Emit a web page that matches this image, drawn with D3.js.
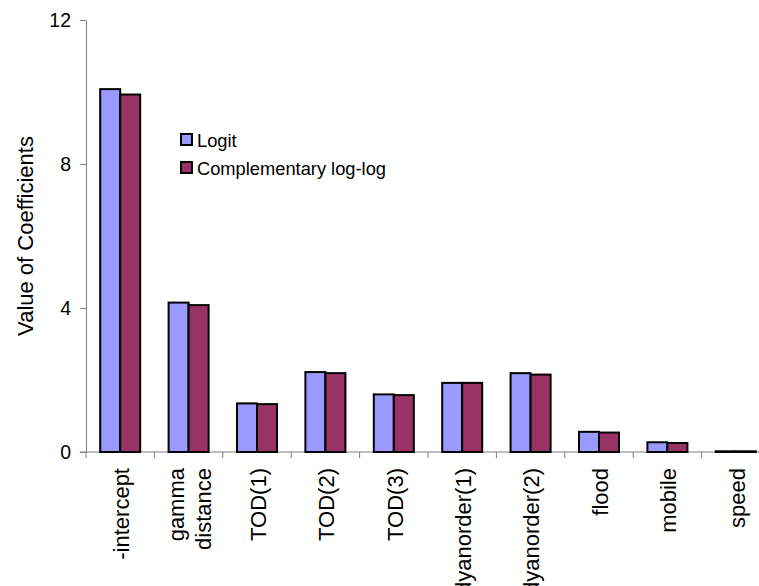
<!DOCTYPE html>
<html>
<head>
<meta charset="utf-8">
<script src="https://cdn.jsdelivr.net/npm/d3@7"></script>
<style>
  html, body { margin: 0; padding: 0; background: #fff; overflow: hidden; }
  svg { display: block; font-family: Arial, "Liberation Sans", sans-serif; }
</style>
</head>
<body>
<svg id="chart" width="759" height="586"></svg>
<script>
// Coefficient estimates for the two link functions
const categories = ["-intercept", "gamma distance", "TOD(1)", "TOD(2)", "TOD(3)",
                    "dyanorder(1)", "dyanorder(2)", "flood", "mobile", "speed"];
const seriesNames = ["Logit", "Complementary log-log"];
const logitValues = [10.08, 4.15, 1.35, 2.22, 1.60, 1.92, 2.19, 0.56, 0.27, 0.02];
const cloglogValues = [9.93, 4.08, 1.33, 2.19, 1.58, 1.92, 2.15, 0.54, 0.25, 0.02];
const yTicks = [0, 4, 8, 12];
const yTitle = "Value of Coefficients";

const colors = ["#9999ff", "#993366"];
const seriesValues = [logitValues, cloglogValues];

const svg = d3.select("#chart");
const plot = { left: 86, right: 770, top: 20, bottom: 452 };

const x = d3.scaleBand()
  .domain(categories)
  .range([plot.left, plot.right])
  .paddingInner(0.415)
  .paddingOuter(0.2075);

const xSeries = d3.scaleBand()
  .domain(seriesNames)
  .range([0, x.bandwidth()]);

const y = d3.scaleLinear()
  .domain([0, 12])
  .range([plot.bottom, plot.top]);

// y axis
const yAxis = svg.append("g")
  .attr("transform", `translate(${plot.left},0)`)
  .call(d3.axisLeft(y).tickValues(yTicks).tickSize(6).tickPadding(9).tickSizeOuter(0));
yAxis.select(".domain").attr("stroke", "#808080");
yAxis.selectAll(".tick line").attr("stroke", "#808080");
yAxis.selectAll("text")
  .attr("fill", "#000")
  .style("font-size", "19.5px");

// x axis: tick marks sit on category boundaries
const step = x.step();
const boundaries = d3.range(categories.length + 1).map(i => plot.left + i * step);
const xAxisG = svg.append("g");
xAxisG.append("line")
  .attr("x1", plot.left - 6).attr("x2", plot.right)
  .attr("y1", plot.bottom).attr("y2", plot.bottom)
  .attr("stroke", "#808080");
xAxisG.selectAll("line.tick")
  .data(boundaries)
  .join("line")
  .attr("class", "tick")
  .attr("x1", d => d).attr("x2", d => d)
  .attr("y1", plot.bottom).attr("y2", plot.bottom + 6)
  .attr("stroke", "#808080");

// bars
const groups = svg.append("g")
  .selectAll("g")
  .data(categories)
  .join("g")
  .attr("transform", d => `translate(${x(d)},0)`);

groups.selectAll("rect")
  .data((d, i) => seriesNames.map((s, k) => ({ series: s, value: seriesValues[k][i], k })))
  .join("rect")
  .attr("x", d => xSeries(d.series))
  .attr("width", xSeries.bandwidth())
  .attr("y", d => y(d.value))
  .attr("height", d => y(0) - y(d.value))
  .attr("fill", d => colors[d.k])
  .attr("stroke", "#000")
  .attr("stroke-width", 2);

// category labels, rotated, wrapped on spaces
const labelG = svg.append("g");
categories.forEach(c => {
  const lines = c.split(" ");
  const cx = x(c) + x.bandwidth() / 2;
  const lh = 27;
  const t = labelG.append("text")
    .attr("transform", `translate(${cx + 1},${plot.bottom + 16}) rotate(-90)`)
    .attr("text-anchor", "end")
    .style("font-size", "22px")
    .attr("fill", "#000");
  lines.forEach((ln, j) => {
    t.append("tspan")
      .attr("x", 0)
      .attr("y", (j - (lines.length - 1) / 2) * lh)
      .attr("dy", "0.35em")
      .text(ln);
  });
});

// y axis title
svg.append("text")
  .attr("transform", `translate(33,${(plot.top + plot.bottom) / 2}) rotate(-90)`)
  .attr("text-anchor", "middle")
  .style("font-size", "22px")
  .attr("fill", "#000")
  .text(yTitle);

// legend
const legend = svg.append("g").attr("transform", "translate(181,134)");
const items = legend.selectAll("g")
  .data(seriesNames)
  .join("g")
  .attr("transform", (d, i) => `translate(0,${i * 28})`);
items.append("rect")
  .attr("width", 11).attr("height", 11)
  .attr("fill", (d, i) => colors[i])
  .attr("stroke", "#000")
  .attr("stroke-width", 2);
items.append("text")
  .attr("x", 16)
  .attr("y", 12.5)
  .style("font-size", "18.3px")
  .attr("fill", "#000")
  .text(d => d);
</script>
</body>
</html>
